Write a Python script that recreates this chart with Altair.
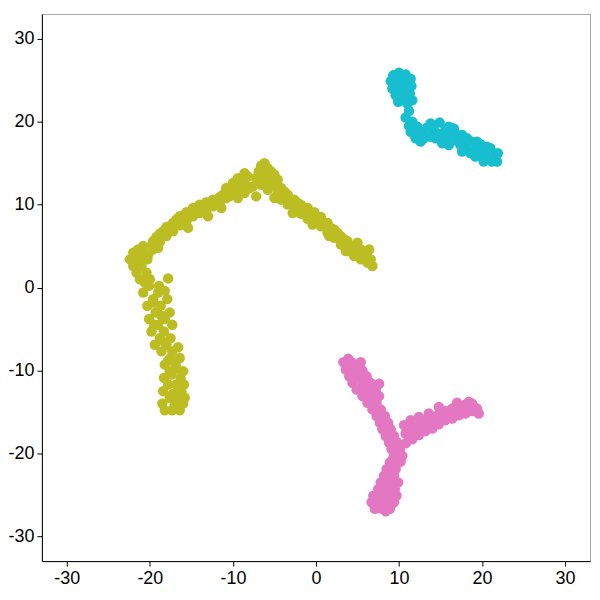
import altair as alt
import pandas as pd

# Olive cluster (x, y)
olive_x = [
    -18.2, -17.3, -16.4, -18.5, -16.0, -17.6, -16.5, -15.8, -18.4, -16.2,
    -17.8, -16.8, -15.9, -18.3, -16.3, -17.6, -16.0, -18.2, -16.9, -17.5,
    -16.4, -18.6, -17.3,
    -18.0, -19.4, -18.8, -17.5, -19.8, -18.3, -17.3, -19.0, -20.1, -18.2,
    -19.3, -17.6, -20.3, -18.7, -19.6, -17.9, -20.8, -19.0, -20.1, -18.9,
    -21.2, -20.0, -17.8, -21.6, -20.4, -22.0, -21.0, -22.4, -21.3, -20.3,
    -22.0, -21.0, -20.8, -19.8,
    -19.6, -19.6, -18.8, -18.8, -18.0, -18.0, -17.2, -17.2, -16.4, -16.4,
    -15.6, -15.6, -14.8, -14.8, -14.0, -14.0, -13.2, -13.2, -12.4, -12.4,
    -11.6, -11.6, -10.8, -10.8, -10.0, -10.0, -9.4, -9.4, -9.4, -8.6,
    -8.6, -8.6, -7.2, -7.2, -6.6, -6.6, -6.6, -5.8, -5.8, -5.8,
    -5.0, -5.0, -5.0, -4.2, -4.2, -3.4, -3.4, -2.6, -2.6, -1.8,
    -1.8, -1.0, -1.0, -0.2, -0.2, 0.6, 0.6, 1.4, 1.4, 2.2,
    2.2, 3.0, 3.0, 3.8, 3.8, 4.6, 4.6, 5.4, 5.4, 6.2,
    6.2, 6.8,
    -17.0, -17.2, -17.4, -16.8, -17.8, -16.6, -18.6, -19.5, -18.6, -19.6,
    -18.2, -20.6, -21.4, -20.2, -19.0,
    -19.2, -18.4, -17.6, -16.8, -16.0, -15.2, -14.4, -13.6, -12.8, -12.0,
    -11.2, -10.4, -10.4, -9.0, -8.2, -8.0, -7.6, -6.9, -6.2, -6.2,
    -5.4, -5.4, -4.6, -4.6, -3.8, -3.0, -2.2, -1.4, -0.6, 0.2,
    1.0, 1.8, 2.6, 3.4, 4.2, 5.0, 5.8, 6.6, 6.4, 5.0,
    -15.4, -13.0, -11.4, -2.8, -0.4, 1.6, 3.6,
]
olive_y = [
    -14.8, -14.8, -14.8, -14.0, -14.0, -13.3, -13.3, -13.3, -12.5, -12.5,
    -11.7, -11.7, -11.7, -10.9, -10.9, -10.1, -10.1, -9.3, -9.3, -8.5,
    -8.5, -7.7, -7.7,
    -6.9, -6.9, -6.1, -6.1, -5.3, -5.3, -4.5, -4.5, -3.8, -3.8,
    -3.0, -3.0, -2.2, -2.2, -1.4, -1.4, -0.6, -0.6, 0.2, 0.2,
    1.0, 1.0, 1.1, 1.8, 1.8, 2.6, 2.6, 3.4, 3.4, 3.4,
    4.2, 4.2, 5.0, 5.0,
    5.6, 4.6, 6.5, 5.5, 7.3, 6.2, 7.8, 6.8, 8.6, 7.5,
    9.1, 8.0, 9.6, 8.6, 10.0, 9.0, 10.3, 9.4, 10.6, 9.8,
    10.9, 10.2, 12.0, 10.8, 12.6, 11.3, 13.2, 12.0, 10.8, 13.8,
    12.6, 11.4, 13.2, 11.0, 14.7, 13.6, 12.4, 14.4, 13.2, 11.8,
    13.6, 12.2, 10.8, 12.0, 10.6, 11.2, 10.0, 10.6, 9.4, 10.0,
    8.9, 9.6, 8.3, 9.1, 7.9, 8.5, 7.4, 7.8, 6.6, 7.0,
    6.0, 6.2, 5.2, 5.6, 4.4, 5.0, 3.8, 4.6, 3.4, 4.3,
    3.0, 2.6,
    -14.2, -12.8, -10.5, -9.8, -8.8, -7.2, -6.4, -4.5, -3.4, -1.8,
    -0.4, 0.6, 4.6, 4.0, 4.8,
    6.1, 6.8, 7.4, 8.2, 8.6, 9.1, 9.5, 9.9, 10.1, 10.4,
    11.2, 12.0, 11.0, 12.8, 13.4, 12.0, 12.2, 14.0, 15.0, 12.8,
    14.0, 12.6, 13.0, 11.4, 11.6, 10.6, 10.2, 9.4, 8.9, 8.4,
    7.8, 7.2, 6.6, 5.8, 5.0, 4.3, 3.8, 3.4, 4.6, 5.4,
    7.2, 8.6, 9.6, 9.0, 7.6, 6.2, 4.4,
]

# Cyan cluster
cyan_x = [
    9.3, 10.0, 10.8, 11.4, 9.0, 9.8, 10.6, 11.5, 9.2, 10.1,
    9.6, 10.4, 11.3, 9.9, 11.0, 11.2, 10.8, 11.6,
    11.2, 12.2, 11.4, 12.8, 13.4, 14.2, 13.8, 14.8, 14.9, 15.6,
    15.0, 16.2, 16.6, 17.0, 17.6, 18.0, 18.4, 18.8, 19.3, 19.8,
    19.9, 20.4, 21.0, 20.8, 21.5, 21.8, 12.0, 16.0,
    9.5, 10.4, 11.0, 10.4, 9.6, 10.6, 11.6,
    12.0, 13.0, 13.8, 14.4, 15.4, 16.0, 16.8, 17.4, 18.2, 18.6,
    19.4, 20.2, 20.6, 21.2, 21.9, 19.2,
    12.6, 17.6, 15.2,
]
cyan_y = [
    25.6, 25.9, 25.7, 25.2, 24.9, 24.8, 24.7, 24.3, 24.0, 23.8,
    23.2, 23.0, 23.4, 22.4, 22.2, 21.3, 20.5, 20.0,
    19.5, 19.4, 18.8, 18.6, 19.3, 19.0, 18.2, 18.5, 19.9, 19.1,
    17.9, 18.3, 19.2, 17.7, 18.4, 17.2, 16.5, 17.6, 16.7, 17.3,
    15.9, 16.4, 16.8, 15.5, 15.8, 15.2, 18.0, 17.2,
    25.2, 25.3, 24.0, 24.2, 24.4, 22.8, 22.6,
    18.2, 18.0, 19.8, 18.0, 18.2, 19.4, 18.6, 17.2, 18.0, 16.2,
    17.6, 15.2, 17.0, 15.2, 16.2, 15.8,
    17.6, 16.4, 17.4,
]

# Pink cluster
pink_x = [
    3.3, 4.3, 5.4, 3.6, 4.6, 4.0, 5.2, 6.1, 4.4, 5.6,
    6.6, 4.9, 6.1, 7.2, 5.6, 6.7, 7.6, 6.2, 7.3, 6.8,
    7.8, 7.3, 8.3, 7.7, 8.7, 8.0, 9.0, 8.4, 9.4, 8.8,
    9.8, 9.1, 10.1,
    9.4, 10.4, 8.9, 9.9, 8.5, 9.6, 8.2, 9.4, 7.8, 9.0,
    9.9, 7.5, 8.5, 9.5, 6.9, 7.9, 8.9, 9.7, 6.7, 7.6,
    8.6, 9.4, 7.1, 8.0, 8.9,
    10.8, 10.8, 11.6, 11.6, 12.4, 12.4, 13.2, 13.2, 14.0, 14.0,
    14.8, 14.8, 14.8, 15.6, 15.6, 16.4, 16.4, 17.2, 17.2, 18.0,
    18.0, 18.8, 18.8, 19.4,
    3.9, 4.9, 5.6, 4.6, 5.8, 6.4, 6.9, 7.0, 7.6, 8.0,
    8.3, 8.7, 9.1, 9.5, 9.8, 9.2, 9.3, 8.8, 8.6, 8.3,
    8.0, 7.4, 8.2, 9.0, 7.5, 8.4, 9.5,
    11.2, 12.0, 12.8, 13.6, 14.4, 15.2, 16.0, 16.8, 17.6, 18.4,
    19.0, 17.0, 18.4, 19.6, 13.6, 12.4,
    10.6, 11.4, 10.2, 7.6,
]
pink_y = [
    -9.0, -9.0, -9.0, -9.9, -9.9, -10.7, -10.7, -10.7, -11.5, -11.5,
    -11.5, -12.3, -12.3, -12.3, -13.1, -13.1, -13.1, -13.9, -13.9, -14.7,
    -14.7, -15.5, -15.5, -16.3, -16.3, -17.1, -17.1, -17.9, -17.9, -18.7,
    -18.7, -19.5, -19.5,
    -20.3, -20.3, -21.1, -21.1, -21.9, -21.9, -22.7, -22.7, -23.5, -23.5,
    -23.5, -24.3, -24.3, -24.3, -25.1, -25.1, -25.1, -25.1, -25.9, -25.9,
    -25.9, -25.9, -26.7, -26.7, -26.7,
    -18.8, -17.6, -18.3, -17.0, -17.8, -16.6, -17.3, -16.0, -17.0, -15.6,
    -16.5, -15.3, -14.4, -16.0, -14.9, -15.8, -14.6, -15.4, -14.3, -15.2,
    -14.1, -14.9, -14.0, -14.6,
    -8.6, -9.5, -10.0, -11.0, -12.0, -12.8, -13.6, -14.4, -15.0, -15.8,
    -16.7, -17.5, -18.3, -19.0, -20.0, -20.8, -21.6, -22.3, -23.1, -23.9,
    -24.7, -25.5, -25.6, -26.3, -26.6, -27.0, -24.8,
    -18.0, -17.4, -16.9, -16.5, -16.0, -15.6, -15.2, -15.0, -14.8, -14.6,
    -14.4, -13.9, -13.8, -15.2, -15.2, -15.6,
    -16.6, -16.0, -21.0, -11.6,
]

groups = ["olive", "cyan", "pink"]
colors = ["#bcbd22", "#17becf", "#e377c2"]
ticks = [-30, -20, -10, 0, 10, 20, 30]

df = pd.concat([
    pd.DataFrame({"x": olive_x, "y": olive_y, "g": groups[0]}),
    pd.DataFrame({"x": cyan_x, "y": cyan_y, "g": groups[1]}),
    pd.DataFrame({"x": pink_x, "y": pink_y, "g": groups[2]}),
], ignore_index=True)

axis_common = dict(
    title=None, grid=False, values=ticks, domainColor="black", domainWidth=1,
    tickColor="black", tickSize=5, labelFontSize=18, labelColor="black",
    labelFont="Liberation Sans", labelPadding=3,
    labelExpr="'' + datum.value",
)

chart = alt.Chart(df).mark_circle(size=110, opacity=1).encode(
    x=alt.X("x:Q", scale=alt.Scale(domain=[-33, 33], nice=False, zero=False),
            axis=alt.Axis(**axis_common)),
    y=alt.Y("y:Q", scale=alt.Scale(domain=[-33, 33], nice=False, zero=False),
            axis=alt.Axis(**axis_common)),
    color=alt.Color("g:N", scale=alt.Scale(domain=groups, range=colors), legend=None),
).properties(
    width=550, height=549,
    autosize=alt.AutoSizeParams(type="none"),
    padding={"left": 34, "top": 5, "right": 2, "bottom": 30},
).configure_view(stroke="#a6a6a6", strokeWidth=1)

chart.save("out.html", embed_options={"renderer": "svg", "actions": False})
